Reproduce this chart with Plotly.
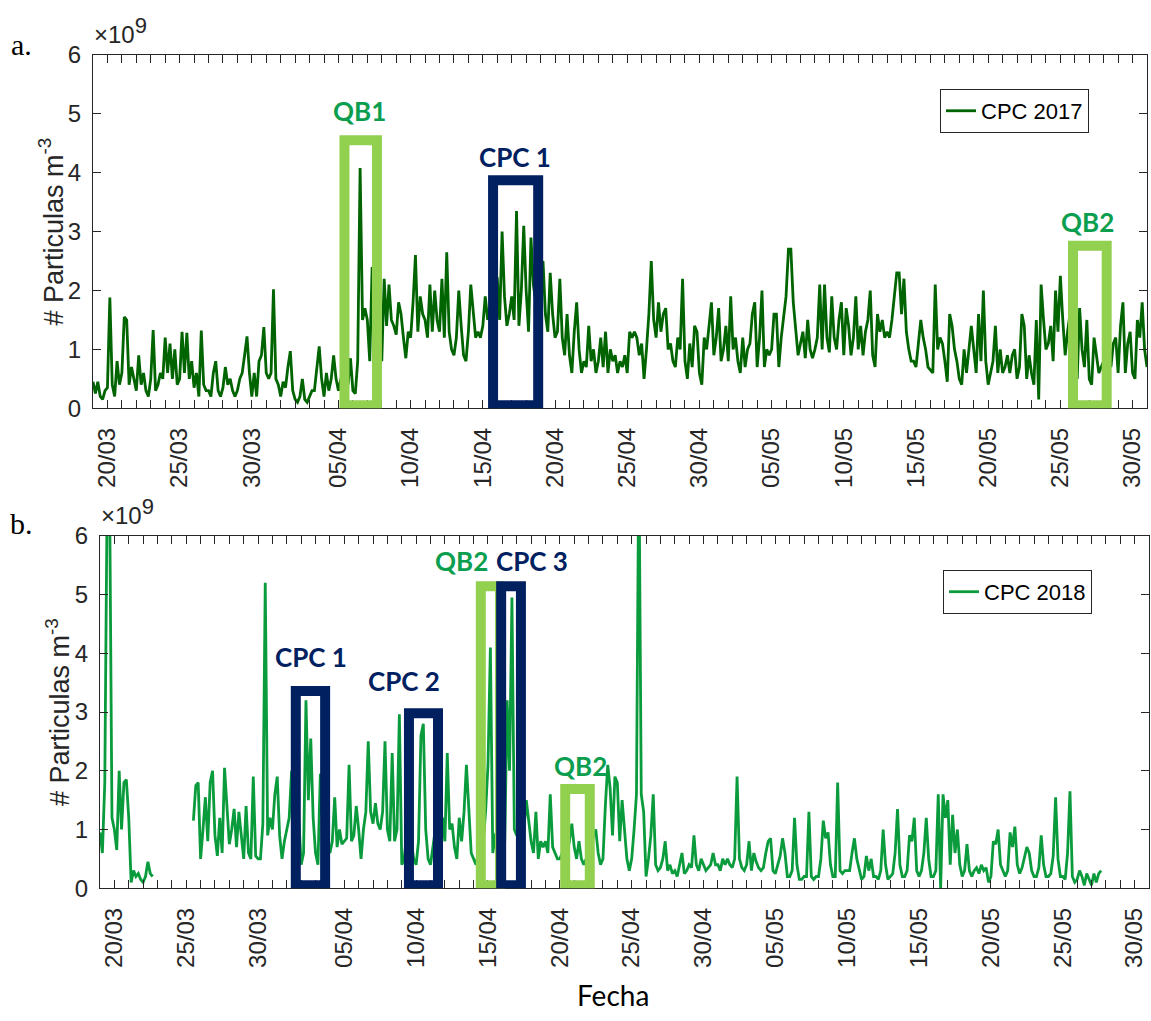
import pandas as pd
import plotly.graph_objects as go

# ---------------- data (values in units of 1e9 particles m^-3, 4-hourly) ----------------
START_2017 = "2017-03-19 00:00"
START_2018 = "2018-03-19 00:00"
STEP = "4h"
SCALE = 1e9

cpc_2017 = [
    0.45, 0.25, 0.45, 0.2, 0.15, 0.3,
    0.35, 1.88, 0.4, 0.2, 0.8, 0.4,
    0.6, 1.55, 1.5, 0.4, 0.7, 0.5,
    0.3, 0.9, 0.4, 0.6, 0.3, 0.2,
    0.5, 1.33, 0.3, 0.4, 0.6, 0.5,
    1.2, 0.6, 1.1, 0.5, 1.0, 0.4,
    0.5, 1.3, 0.6, 1.28, 0.5, 0.8,
    0.35, 0.6, 0.2, 1.32, 0.4, 0.3,
    0.3, 0.2, 0.6, 0.8, 0.3, 0.2,
    0.35, 0.7, 0.4, 0.5, 0.3, 0.2,
    0.3, 0.5, 0.6, 0.9, 1.22, 0.6,
    0.2, 0.6, 0.2, 0.8, 0.9, 1.38,
    0.6, 0.5, 0.6, 2.02, 0.5, 0.4,
    0.2, 0.45, 0.35, 0.7, 0.97, 0.3,
    0.15, 0.1, 0.2, 0.5, 0.15, 0.1,
    0.2, 0.3, 0.3, 0.7, 1.05, 0.5,
    0.2, 0.6, 0.3, 0.5, 0.9, 0.5,
    0.3, 0.5, 0.6, 0.5, 0.4, 0.85,
    0.3, 0.25, 0.8, 4.08, 1.5, 1.7,
    1.5, 0.8, 2.4, 1.6, 1.2, 1.4,
    0.8, 2.2, 1.4, 2.1, 1.5, 1.4,
    1.25, 1.8, 1.6, 1.2, 0.85, 1.3,
    1.2, 1.8, 2.6, 1.3, 1.9, 1.6,
    1.5, 1.2, 2.1, 1.3, 2.0, 1.5,
    1.3, 2.2, 1.2, 2.65, 1.3, 1.0,
    0.9, 1.2, 2.0, 1.4, 0.9, 0.8,
    1.3, 2.1, 1.6, 1.2, 1.3, 1.2,
    1.4, 1.9, 1.5, 1.7, 2.0, 2.2,
    2.2, 1.5, 3.0, 1.9, 1.4, 1.6,
    1.9, 1.5, 3.35, 1.4, 2.0, 3.1,
    2.0, 1.3, 2.9, 2.1, 1.8, 2.2,
    2.3, 2.5, 1.6, 1.3, 2.3, 1.6,
    1.2, 1.3, 2.2, 1.2, 0.9, 1.6,
    0.9, 0.6, 1.3, 1.8, 1.0, 0.6,
    0.8, 0.7, 1.4, 0.8, 1.0, 0.6,
    0.8, 1.2, 0.7, 1.3, 0.6, 1.0,
    0.8, 0.9, 0.6, 0.8, 0.7, 0.9,
    0.6, 1.3, 1.2, 1.3, 1.2, 0.9,
    1.1, 0.5, 1.0, 1.6, 2.5, 1.5,
    1.2, 1.8, 1.3, 1.6, 1.7, 1.0,
    1.1, 0.8, 0.7, 1.2, 1.0, 2.2,
    0.8, 0.5, 1.1, 0.7, 1.4, 1.3,
    0.6, 0.4, 1.2, 1.0, 1.4, 1.8,
    0.9, 1.2, 1.7, 0.8, 1.0, 1.4,
    0.8, 1.9, 1.0, 1.2, 0.8, 0.6,
    1.2, 0.7, 1.0, 1.1, 1.6, 1.8,
    0.7, 1.2, 2.0, 0.7, 1.0, 0.9,
    1.0, 1.6, 1.6, 0.7, 1.2, 1.6,
    1.9, 2.7, 2.7, 1.8, 1.4, 0.9,
    1.1, 1.3, 0.85, 1.5, 1.0, 0.85,
    1.0, 1.2, 2.1, 1.0, 2.1, 1.2,
    0.95, 1.9, 1.2, 1.0, 1.5, 1.8,
    0.9, 1.7, 1.4, 0.9, 1.2, 1.9,
    1.0, 1.4, 0.9, 1.3, 1.5, 2.0,
    0.9, 0.7, 1.6, 1.3, 1.5, 1.2,
    1.3, 1.2, 1.5, 1.9, 2.3, 2.3,
    1.6, 2.2, 1.3, 1.0, 0.8, 0.8,
    0.7, 1.1, 1.5, 1.2, 1.0, 0.7,
    0.65, 0.6, 2.1, 1.0, 1.2, 1.1,
    0.8, 0.45, 1.6, 1.4, 1.0, 0.8,
    0.5, 0.4, 1.0, 0.6, 1.0, 1.4,
    1.0, 0.6, 1.6, 0.8, 2.0, 0.8,
    0.4, 0.6, 0.8, 1.4, 0.6, 1.0,
    0.6, 0.7, 0.9, 0.6, 0.9, 1.0,
    0.5, 0.7, 1.6, 1.4, 0.5, 0.9,
    0.6, 0.4, 1.5, 0.15, 2.1, 1.5,
    1.0, 1.1, 1.4, 0.8, 2.0, 1.3,
    2.25, 1.5, 0.9, 1.3, 1.6, 1.2,
    0.9, 0.5, 1.7, 1.0, 0.7, 1.5,
    0.5, 0.4, 1.2, 0.9, 0.6, 0.7,
    0.8, 0.9, 1.0, 0.7, 1.1, 1.2,
    0.6, 1.4, 1.8, 0.6, 1.1, 1.3,
    0.6, 0.5, 1.5, 1.2, 1.8, 1.0,
    0.7,
]

cpc_2018 = [
    0.95, 0.6, 1.8, 6.8, 6.8, 1.2,
    1.0, 0.65, 2.0, 1.0, 1.8, 1.85,
    1.2, 0.1, 0.3, 0.2, 0.25, 0.15,
    0.1, 0.2, 0.45, 0.25, 0.2, None,
    None, None, None, None, None, None,
    None, None, None, None, None, None,
    None, None, None, 1.15, 1.75, 1.8,
    0.5, 1.0, 1.55, 0.8, 1.8, 2.0,
    0.9, 0.55, 1.2, 0.6, 2.05, 1.4,
    0.75, 1.0, 1.35, 0.7, 1.3, 0.9,
    0.5, 1.4, 0.6, 0.5, 1.9, 0.55,
    0.5, 0.5, 1.1, 5.2, 0.9, 1.2,
    1.0, 1.6, 1.9, 0.9, 0.5, 0.8,
    1.0, 1.2, 2.0, 1.0, 1.4, 1.2,
    0.4, 0.6, 3.2, 1.5, 2.55, 1.2,
    0.6, 0.4, 1.95, 1.1, 0.8, 0.7,
    0.6, 0.8, 1.55, 0.7, 1.0, 0.75,
    0.8, 0.85, 2.1, 0.8, 0.9, 1.4,
    1.0, 0.5, 1.0, 1.3, 2.5, 1.3,
    1.1, 1.45, 1.1, 1.0, 1.3, 2.5,
    1.0, 0.8, 2.3, 0.8, 1.0, 2.96,
    0.4, 0.5, 0.9, 1.1, 0.8, 0.5,
    0.4, 0.8, 2.6, 2.8, 1.0, 0.5,
    0.4, 0.7, 1.0, 0.8, 0.9, 1.2,
    0.8, 2.3, 1.0, 1.1, 0.7, 0.5,
    1.2, 0.8, 1.3, 2.1, 1.4, 0.6,
    0.5, 0.4, 0.6, 0.9, 0.8, 1.3,
    2.1, 4.1, 0.6, 0.9, 1.0, 0.8,
    1.0, 0.8, 3.2, 2.0, 4.95, 1.0,
    0.9, 1.2, 1.4, 1.0, 1.5, 1.1,
    0.8, 0.6, 1.3, 0.5, 0.8, 0.7,
    0.8, 0.6, 1.6, 0.7, 0.6, 0.5,
    0.5, 0.6, 0.7, 0.6, 0.8, 1.1,
    0.7, 0.5, 0.8, 0.5, 0.4, 0.5,
    0.5, 0.6, 0.9, 1.0, 0.6, 0.4,
    0.5, 1.4, 2.1, 1.7, 0.9, 1.9,
    1.8, 0.8, 1.5, 1.0, 0.5, 0.3,
    0.5, 1.0, 1.6, 7.5, 1.6, 1.3,
    0.2, 0.5, 0.9, 1.6, 0.4, 0.3,
    0.35, 0.5, 0.8, 0.3, 0.4, 0.25,
    0.3, 0.2, 0.4, 0.6, 0.25, 0.3,
    0.4, 0.35, 0.9, 0.4, 0.3, 0.5,
    0.4, 0.3, 0.35, 0.4, 0.6, 0.4,
    0.4, 0.3, 0.5, 0.4, 0.5, 0.4,
    0.35, 0.5, 1.9, 0.5, 0.35, 0.3,
    0.4, 0.8, 0.3, 0.6, 0.45, 0.35,
    0.3, 0.35, 0.6, 0.8, 0.85, 0.3,
    0.25, 0.4, 0.55, 0.85, 0.6, 0.2,
    0.2, 0.3, 1.2, 0.4, 0.15, 0.15,
    0.2, 0.2, 1.3, 0.2, 0.15, 0.2,
    0.2, 0.5, 1.15, 0.85, 0.95, 0.4,
    0.2, 0.2, 1.8, 0.3, 0.25, 0.3,
    0.3, 0.3, 0.6, 0.85, 0.5, 0.3,
    0.15, 0.2, 0.55, 0.3, 0.5, 0.2,
    0.2, 0.15, 0.3, 1.0, 0.4, 0.15,
    0.2, 0.25, 0.6, 1.35, 0.4, 0.2,
    0.2, 0.3, 0.9, 0.8, 1.2, 0.3,
    0.2, 0.3, 0.6, 1.2, 0.5, 0.2,
    0.2, 0.3, 1.6, 0.0, 1.6, 1.2,
    1.5, 0.4, 1.25, 0.6, 1.0, 0.4,
    0.2, 0.3, 0.75, 0.3, 0.2, 0.3,
    0.35, 0.25, 0.4, 0.3, 0.35, 0.1,
    0.2, 0.8, 0.75, 1.0, 0.4, 0.3,
    0.2, 0.3, 0.95, 0.7, 1.05, 0.4,
    0.25, 0.35, 0.55, 0.7, 0.6, 0.3,
    0.2, 0.2, 0.35, 0.9, 0.4, 0.2,
    0.2, 0.25, 0.55, 1.55, 0.5, 0.2,
    0.2, 0.15, 0.6, 1.65, 0.2, 0.1,
    0.15, 0.3, 0.2, 0.05, 0.25, 0.15,
    0.05, 0.25, 0.1, 0.25, 0.3,
]

# axis ticks: one per day, labels every 5 days
tick_label_days = ["03-20", "03-25", "03-30", "04-05", "04-10", "04-15", "04-20",
                   "04-25", "04-30", "05-05", "05-10", "05-15", "05-20", "05-25", "05-30"]
tick_label_text = ["20/03", "25/03", "30/03", "05/04", "10/04", "15/04", "20/04",
                   "25/04", "30/04", "05/05", "10/05", "15/05", "20/05", "25/05", "30/05"]
y_tick_text = ["0", "1", "2", "3", "4", "5", "6"]

# highlighted episodes: (label, start, end, top value [1e9], kind)
boxes_2017 = [
    ("QB1", "2017-04-05 10:00", "2017-04-07 16:00", 4.55, "qb"),
    ("CPC 1", "2017-04-15 17:00", "2017-04-18 20:00", 3.87, "cpc"),
    ("QB2", "2017-05-25 21:00", "2017-05-28 05:00", 2.76, "qb"),
]
boxes_2018 = [
    ("CPC 1", "2018-04-01 15:00", "2018-04-03 16:00", 3.36, "cpc"),
    ("CPC 2", "2018-04-09 12:00", "2018-04-11 12:30", 2.98, "cpc"),
    ("QB2", "2018-04-14 12:00", "2018-04-15 20:00", 5.14, "qb"),
    ("CPC 3", "2018-04-15 22:00", "2018-04-17 07:00", 5.14, "cpc"),
    ("QB2", "2018-04-20 09:00", "2018-04-22 02:00", 1.69, "qb"),
]
BOX_BOTTOM = 0.05

# ---------------- styling ----------------
W, H = 1151, 1021
AX = "#262626"
LINE17 = "#006400"
LINE18 = "#0A9B3C"
QB_BOX = "#92D050"
CPC_BOX = "#002060"
QB_TEXT = "#0B9E4F"
TICK_FONT = dict(family="Liberation Sans, Arial, sans-serif", size=24, color=AX)
LABEL_FONT = "Lato, Calibri, sans-serif"


def px_x(p):
    return p / W


def px_y(p):
    return 1 - p / H


def scaled(vals):
    return [None if v is None else v * SCALE for v in vals]


t17 = pd.date_range(START_2017, periods=len(cpc_2017), freq=STEP)
t18 = pd.date_range(START_2018, periods=len(cpc_2018), freq=STEP)

fig = go.Figure()
fig.add_trace(go.Scatter(x=t17, y=scaled(cpc_2017), mode="lines", name="CPC 2017",
                         line=dict(color=LINE17, width=2.8), connectgaps=False,
                         xaxis="x", yaxis="y", legend="legend"))
fig.add_trace(go.Scatter(x=t18, y=scaled(cpc_2018), mode="lines", name="CPC 2018",
                         line=dict(color=LINE18, width=2.8), connectgaps=False,
                         xaxis="x2", yaxis="y2", legend="legend2"))


def xaxis_for(year, domain, anchor):
    days = pd.date_range(f"{year}-03-19", f"{year}-05-31", freq="D")
    labels = dict(zip(tick_label_days, tick_label_text))
    text = [labels.get(d.strftime("%m-%d"), "") for d in days]
    return dict(domain=domain, anchor=anchor, type="date",
                range=[f"{year}-03-19", f"{year}-05-31"],
                tickmode="array", tickvals=list(days), ticktext=text, tickangle=-90,
                ticks="inside", ticklen=8, tickwidth=1, tickcolor=AX,
                showline=True, linecolor=AX, linewidth=1, mirror="ticks",
                showgrid=False, zeroline=False, tickfont=TICK_FONT,
                ticklabelstandoff=9)


def yaxis_for(domain, anchor):
    return dict(domain=domain, anchor=anchor, range=[0, 6 * SCALE],
                tickmode="array", tickvals=[i * SCALE for i in range(7)], ticktext=y_tick_text,
                ticks="inside", ticklen=8, tickwidth=1, tickcolor=AX,
                showline=True, linecolor=AX, linewidth=1, mirror="ticks",
                showgrid=False, zeroline=False, tickfont=TICK_FONT,
                ticklabelstandoff=6)


# panel geometry (pixels)
A_L, A_R, A_T, A_B = 93, 1147, 42, 405
B_L, B_R, B_T, B_B = 100, 1149, 536, 898

LEGEND_FONT = dict(family="Liberation Sans, Arial", size=22, color="black")
fig.update_layout(
    width=W, height=H, autosize=False,
    margin=dict(l=0, r=0, t=0, b=0),
    paper_bgcolor="white", plot_bgcolor="white",
    showlegend=True,
    xaxis=xaxis_for(2017, [px_x(A_L), px_x(A_R)], "y"),
    yaxis=yaxis_for([px_y(A_B), px_y(A_T)], "x"),
    xaxis2=xaxis_for(2018, [px_x(B_L), px_x(B_R)], "y2"),
    yaxis2=yaxis_for([px_y(B_B), px_y(B_T)], "x2"),
    legend=dict(x=px_x(940), y=px_y(77), xanchor="left", yanchor="top",
                bgcolor="white", bordercolor=AX, borderwidth=1,
                font=LEGEND_FONT, itemwidth=30, tracegroupgap=0),
    legend2=dict(x=px_x(943), y=px_y(571), xanchor="left", yanchor="top",
                 bgcolor="white", bordercolor=AX, borderwidth=1,
                 font=LEGEND_FONT, itemwidth=30, tracegroupgap=0),
)

shapes = []
annotations = []
for boxes, xr, yr in ((boxes_2017, "x", "y"), (boxes_2018, "x2", "y2")):
    for label, x0, x1, top, kind in boxes:
        color = QB_BOX if kind == "qb" else CPC_BOX
        shapes.append(dict(type="rect", xref=xr, yref=yr, x0=x0, x1=x1,
                           y0=BOX_BOTTOM * SCALE, y1=top * SCALE,
                           line=dict(color=color, width=10), fillcolor="rgba(0,0,0,0)",
                           layer="above"))

# episode labels (pixel placement of the text)
episode_labels = [
    ("QB1", 359, 100, "qb"), ("CPC 1", 515, 147, "cpc"), ("QB2", 1087, 214, "qb"),
    ("CPC 1", 311, 660, "cpc"), ("CPC 2", 404, 685, "cpc"), ("QB2", 461, 562, "qb"),
    ("CPC 3", 532, 562, "cpc"), ("QB2", 580, 772, "qb"),
]
for text, x, y, kind in episode_labels:
    annotations.append(dict(text=f"<b>{text}</b>", x=px_x(x), y=px_y(y), xref="paper", yref="paper",
                            xanchor="center", yanchor="middle", showarrow=False,
                            font=dict(family=LABEL_FONT, size=26,
                                      color=QB_TEXT if kind == "qb" else CPC_BOX)))

# panel letters, exponent, axis titles
for letter, y in (("a.", 31), ("b.", 523)):
    annotations.append(dict(text=letter, x=px_x(21), y=px_y(y), xref="paper", yref="paper",
                            xanchor="center", yanchor="middle", showarrow=False,
                            font=dict(family="Liberation Serif, DejaVu Serif, serif", size=30, color="black")))
for x, ybot in ((A_L, 37), (B_L, 531)):
    annotations.append(dict(text="×10<sup><span style='font-size:22px'>9</span></sup>",
                            x=px_x(x - 1), y=px_y(ybot), xref="paper", yref="paper",
                            xanchor="left", yanchor="bottom", showarrow=False,
                            font=dict(family="Liberation Sans, Arial", size=24, color=AX)))
for x, yc in ((51, (A_T + A_B) / 2), (58, (B_T + B_B) / 2)):
    annotations.append(dict(text="# Particulas m<sup>-3</sup>", x=px_x(x), y=px_y(yc),
                            xref="paper", yref="paper", textangle=-90,
                            xanchor="center", yanchor="middle", showarrow=False,
                            font=dict(family="Liberation Sans, Arial", size=27, color=AX)))
annotations.append(dict(text="Fecha", x=px_x(613), y=px_y(1008), xref="paper", yref="paper",
                        xanchor="center", yanchor="middle", showarrow=False,
                        font=dict(family=LABEL_FONT, size=28, color="black")))

fig.update_layout(shapes=shapes, annotations=annotations)
fig.write_html("out.html", config={"displayModeBar": False})
